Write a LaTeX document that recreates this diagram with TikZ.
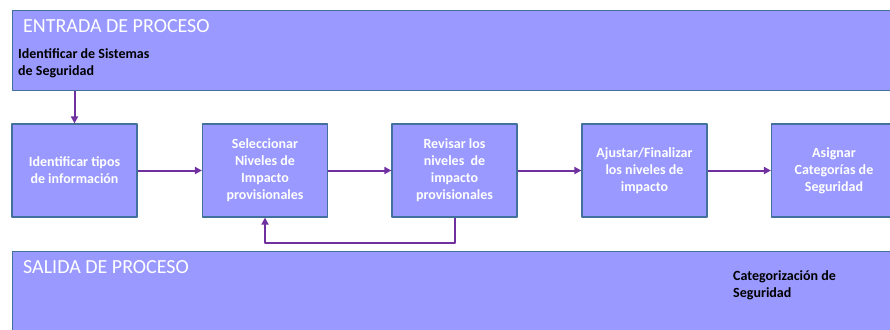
\documentclass[tikz,border=0pt]{standalone}
\usepackage{fontspec}
\setmainfont{Carlito}
\usepackage{xcolor}
\usetikzlibrary{arrows.meta,positioning}
\definecolor{boxfill}{HTML}{9999FF}
\definecolor{boxline}{HTML}{41719C}
\definecolor{flow}{HTML}{7030A0}

\begin{document}
\begin{tikzpicture}[x=1pt, y=-1pt, line join = round,
    panel/.style={draw=boxline, line width=1.2pt, fill=boxfill, rectangle,
        inner sep=0pt, anchor=north west},
    stepbox/.style={draw=boxline, line width=1.2pt, fill=boxfill, rectangle,
        minimum width=125pt, minimum height=93pt, inner sep=2pt, align=center,
        text=white, font=\fontsize{14}{17}\selectfont\bfseries},
    title/.style={anchor=base west, inner sep=0pt, text=white,
        font=\fontsize{20}{24}\selectfont},
    note/.style={anchor=base west, inner sep=0pt, align=left,
        font=\fontsize{14}{16.5}\selectfont\bfseries},
    flowline/.style={draw=flow, line width=2pt,
        -{Triangle[length=7pt, width=7pt]}}]

    \useasboundingbox (0,0) rectangle (890,329);
    \clip (0,0) rectangle (890,329);

    % entrada / salida
    \node[panel, minimum width=900pt, minimum height=80pt] (entrada) at (12,10) {};
    \node[panel, minimum width=900pt, minimum height=100pt] (salida) at (12,251) {};
    \node[title] (tin) at (23,33) {ENTRADA DE PROCESO};
    \node[title] (tout) at (23,273) {SALIDA DE PROCESO};
    \node[note] (sistemas) at (18,75) {Identificar de Sistemas\\de Seguridad};
    \node[note] (categ) at (733,297) {Categorización de\\Seguridad};

    % pasos
    \node[stepbox] (tipos) at (74.5,170.5) {Identificar tipos\\de información};
    \node[stepbox] (selec) at (265,170.5) {Seleccionar\\Niveles de\\Impacto\\provisionales};
    \node[stepbox] (revis) at (454.5,170.5) {Revisar los\\niveles\ \ de\\impacto\\provisionales};
    \node[stepbox] (ajust) at (644.5,170.5) {Ajustar/Finalizar\\los niveles de\\impacto};
    \node[stepbox] (asign) at (834,170.5) {Asignar\\Categorías de\\Seguridad};

    % flechas
    \draw[flowline] (entrada.south -| tipos) -- (tipos);
    \draw[flowline] (tipos) -- (selec);
    \draw[flowline] (selec) -- (revis);
    \draw[flowline] (revis) -- (ajust);
    \draw[flowline] (ajust) -- (asign);
    \draw[flowline] (revis.south) -- ++(0,25) -| (selec.south);

\end{tikzpicture}
\end{document}
